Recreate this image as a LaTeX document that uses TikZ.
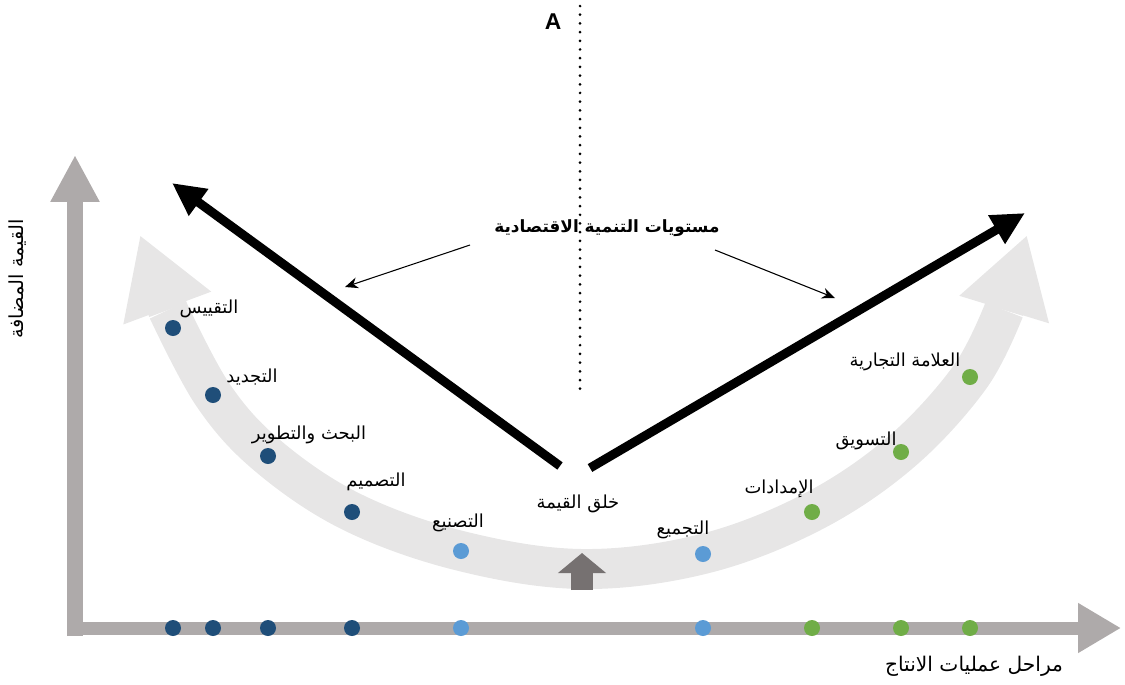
\documentclass[tikz,border=0pt]{standalone}
\usepackage{fontspec}
\usepackage{xcolor}
\usepackage{tikz}
\usetikzlibrary{positioning, arrows.meta}
\TeXXeTstate=1
\newfontfamily\arabicfont[Script=Arabic]{DejaVu Sans}
\newfontfamily\latinfont{Liberation Sans}
\newcommand{\artxt}[1]{{\arabicfont\beginR #1\endR}}
\definecolor{axisgray}{HTML}{AEAAAA}
\definecolor{bandgray}{HTML}{E7E6E6}
\definecolor{pushgray}{HTML}{767171}
\definecolor{stageblue}{HTML}{1F4E79}
\definecolor{stagesky}{HTML}{5B9BD5}
\definecolor{stagegreen}{HTML}{70AD47}

\tikzset{
    stagedot/.style={circle, fill=#1, minimum size=0.32cm, inner sep=0pt},
    stagelbl/.style={inner sep=0pt, font=\fontsize{10.2}{12}\selectfont},
    axisline/.style={draw=axisgray, line width=#1},
    band/.style={draw=bandgray, line width=0.8cm},
    bandtip/.style={band, -{Triangle[width=1.76cm, length=1.56cm]}},
    growth/.style={line width=0.18cm, -{Triangle[width=0.62cm, length=0.66cm]}},
    pointer/.style={line width=0.6pt, -{Stealth[width=0.22cm, length=0.26cm]}}
}

\begin{document}
\begin{tikzpicture}[x=0.02cm, y=-0.02cm]
    \useasboundingbox (0,0) rectangle (1125,684);

    % value band
    \coordinate (bl) at (168,310);
    \coordinate (br) at (1004,310);
    \coordinate (bltip) at (140,235);
    \coordinate (brtip) at (1027,235);
    \draw[band] plot[smooth, tension=0.6] coordinates {(168,310) (213,395) (268,456)
        (352,512) (461,551) (582,569) (703,554) (812,512) (901,452) (970,377) (1004,310)};
    \draw[bandtip] (bl) -- (bltip);
    \draw[bandtip] (br) -- (brtip);

    % axes
    \draw[axisline=0.32cm, -{Triangle[width=0.92cm, length=0.94cm]}] (75,636) -- (75,155);
    \draw[axisline=0.26cm, -{Triangle[width=0.94cm, length=0.86cm]}] (67,628) -- (1121,628);

    % middle line
    \draw[line width=1.7pt, line cap=round, dash pattern=on 0pt off 0.174cm] (580,6) -- (580,395);
    \node[font=\latinfont\bfseries\fontsize{13}{15}\selectfont] (mark) at (553,22) {A};

    % stages
    \foreach \x/\y/\c [count=\i] in {173/328/stageblue, 213/395/stageblue, 268/456/stageblue,
        352/512/stageblue, 461/551/stagesky, 703/554/stagesky, 812/512/stagegreen,
        901/452/stagegreen, 970/377/stagegreen}{
      \node[stagedot=\c] (d\i) at (\x,\y) {};
      \node[stagedot=\c] (a\i) at (\x,628) {};
    }
    \node[stagelbl] (l1) at (209,309) {\artxt{التقييس}};
    \node[stagelbl] (l2) at (252,377) {\artxt{التجديد}};
    \node[stagelbl] (l3) at (309,435) {\artxt{البحث والتطوير}};
    \node[stagelbl] (l4) at (376,482) {\artxt{التصميم}};
    \node[stagelbl] (l5) at (458,523) {\artxt{التصنيع}};
    \node[stagelbl] (vc) at (578,504) {\artxt{خلق القيمة}};
    \node[stagelbl] (l6) at (683,530) {\artxt{التجميع}};
    \node[stagelbl] (l7) at (779,489) {\artxt{الإمدادات}};
    \node[stagelbl] (l8) at (866,441) {\artxt{التسويق}};
    \node[stagelbl] (l9) at (905,362) {\artxt{العلامة التجارية}};

    % value push
    \coordinate (pushfoot) at (582,590);
    \coordinate (pushtip) at (582,553);
    \draw[pushgray, line width=0.44cm, -{Triangle[width=0.94cm, length=0.4cm]}] (pushfoot) -- (pushtip);

    % development levels
    \coordinate (lfoot) at (560,466);
    \coordinate (ltip) at (172,183);
    \coordinate (rfoot) at (590,468);
    \coordinate (rtip) at (1025,213);
    \draw[growth] (lfoot) -- (ltip);
    \draw[growth] (rfoot) -- (rtip);
    \node[inner sep=0pt, font=\bfseries\fontsize{9.6}{12}\selectfont] (levels) at (607,228)
      {\artxt{مستويات التنمية الاقتصادية}};
    \coordinate (lp) at (345,287);
    \coordinate (rp) at (835,298);
    \draw[pointer] (470,245) -- (lp);
    \draw[pointer] (715,250) -- (rp);

    % axis titles
    \node[stagelbl, font=\fontsize{11.5}{13}\selectfont] (xname) at (974,666) {\artxt{مراحل عمليات الانتاج}};
    \node[stagelbl, font=\fontsize{11}{13}\selectfont, rotate=90] (yname) at (18,279) {\artxt{القيمة المضافة}};
\end{tikzpicture}
\end{document}
